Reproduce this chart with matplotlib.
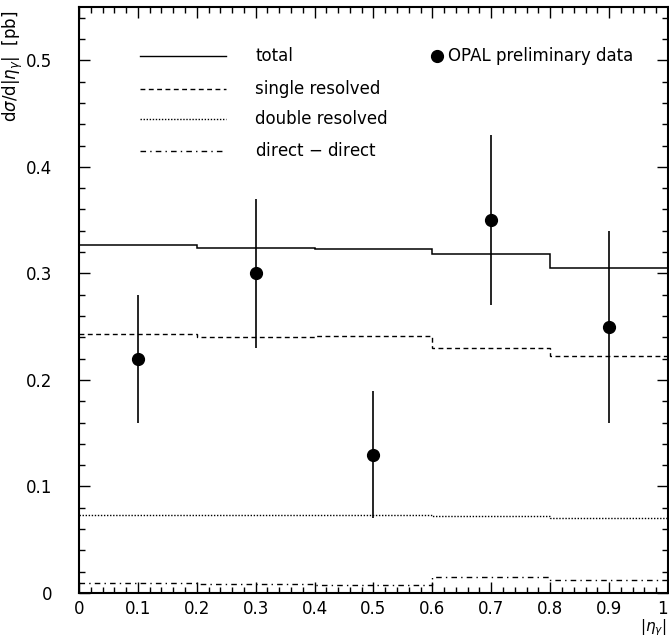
import numpy as np
import matplotlib.pyplot as plt
from matplotlib.ticker import MultipleLocator

# bin edges and theory curves
edges = [0.0, 0.2, 0.4, 0.6, 0.8, 1.0]
total = [0.327, 0.324, 0.323, 0.318, 0.305]
single_res = [0.243, 0.240, 0.241, 0.230, 0.222]
double_res = [0.073, 0.0735, 0.0735, 0.0725, 0.0708]
direct_direct = [0.0095, 0.0088, 0.0080, 0.0150, 0.0120]

# OPAL preliminary data
eta = [0.1, 0.3, 0.5, 0.7, 0.9]
xsec = [0.22, 0.30, 0.13, 0.35, 0.25]
err = [0.06, 0.07, 0.06, 0.08, 0.09]

fig = plt.figure(figsize=(6.69, 6.40), dpi=100)
ax = fig.add_axes([0.118, 0.0734, 0.8805, 0.9156])

ax.stairs(total, edges, baseline=None, color='k', lw=1.1, ls='-')
ax.stairs(single_res, edges, baseline=None, color='k', lw=1.0, ls=(0, (3.5, 2.5)))
ax.stairs(double_res, edges, baseline=None, color='k', lw=1.0, ls=(0, (1, 1.2)))
ax.stairs(direct_direct, edges, baseline=None, color='k', lw=1.0, ls=(0, (4, 3, 1, 3)))

ax.errorbar(eta, xsec, yerr=err, fmt='o', color='k', ms=8.5, elinewidth=1.2, capsize=0)

# legend drawn by hand, PAW style
leg_y = [0.504, 0.473, 0.445, 0.415]
leg_names = ['total', 'single resolved', 'double resolved', 'direct $-$ direct']
leg_styles = ['-', (0, (3.5, 2.5)), (0, (1, 1.2)), (0, (4, 3, 1, 3))]
for yy, name, st in zip(leg_y, leg_names, leg_styles):
    ax.plot([0.104, 0.25], [yy, yy], color='k', lw=1.0, ls=st)
    ax.text(0.299, yy, name, fontsize=12, va='center', ha='left')
ax.plot([0.608], [0.504], 'o', color='k', ms=8.5)
ax.text(0.627, 0.504, 'OPAL preliminary data', fontsize=12, va='center', ha='left')

ax.set_xlim(0, 1)
ax.set_ylim(0, 0.55)
ax.xaxis.set_minor_locator(MultipleLocator(0.02))
ax.yaxis.set_minor_locator(MultipleLocator(0.02))
ax.set_xticks(np.arange(0, 1.01, 0.1))
ax.set_xticklabels(['0', '0.1', '0.2', '0.3', '0.4', '0.5', '0.6', '0.7', '0.8', '0.9', '1'])
ax.set_yticks(np.arange(0, 0.51, 0.1))
ax.set_yticklabels(['0', '0.1', '0.2', '0.3', '0.4', '0.5'])
ax.tick_params(which='both', direction='in', top=True, right=True, labelsize=12, width=1.0)
ax.tick_params(which='major', length=8)
ax.tick_params(which='minor', length=4)
ax.tick_params(axis='x', which='major', pad=5)
ax.tick_params(axis='y', which='major', pad=19)
ax.get_xticklabels()[-1].set_horizontalalignment('right')
for s in ax.spines.values():
    s.set_linewidth(1.5)

ax.set_ylabel(r'd$\sigma$/d$|\eta_\gamma|$  [pb]', fontsize=12, loc='top')
ax.yaxis.set_label_coords(-0.092, 0.995)
fig.text(0.997, 0.003, r'$|\eta_\gamma|$', fontsize=11, ha='right', va='bottom')

fig.savefig('out.png', dpi=100)
